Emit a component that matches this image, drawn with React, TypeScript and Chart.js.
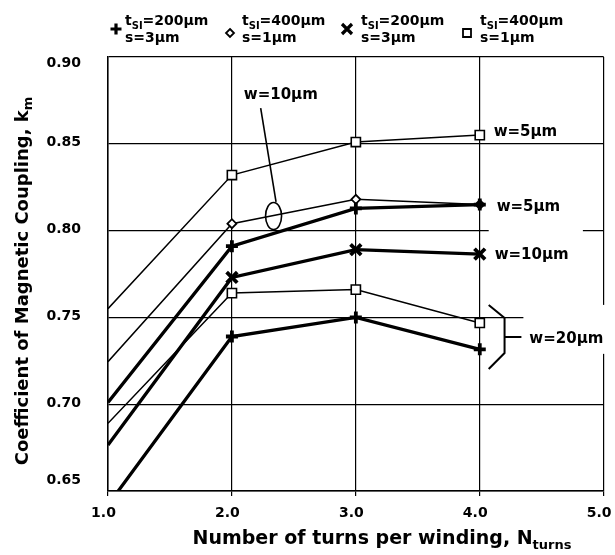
import React, { useEffect, useRef } from 'react';
import { Chart, registerables } from 'chart.js';

Chart.register(...registerables);

// ---- data ----
const turns = [1, 2, 3, 4];
// tSi=400um, s=1um (squares / diamonds), tSi=200um, s=3um (plus / cross)
const sqW5 = [0.755, 0.832, 0.851, 0.855];
const diaW10 = [0.7245, 0.804, 0.818, 0.815];
const plusW5 = [0.701, 0.791, 0.8128, 0.815];
const crossW10 = [0.6765, 0.773, 0.789, 0.7865];
const sqW20 = [0.689, 0.764, 0.766, 0.7468];
const plusW20 = [0.642, 0.739, 0.75, 0.7316];

const xTickLabels = ['1.0', '2.0', '3.0', '4.0', '5.0'];
const yTickValues = [0.65, 0.7, 0.75, 0.8, 0.85, 0.9];
const yTickLabels = ['0.65', '0.70', '0.75', '0.80', '0.85', '0.90'];

const legendTsi = ['200', '400', '200', '400'];
const legendS = ['3', '1', '3', '1'];
const legendMarkers = ['plus', 'diamond', 'cross', 'square'];

const annotTexts = ['w=5\u00b5m', 'w=5\u00b5m', 'w=10\u00b5m', 'w=20\u00b5m', 'w=10\u00b5m'];

const FAMILY = "'DejaVu Sans', 'Liberation Sans', Arial, sans-serif";

type Part = { t: string; sub?: boolean };

function measureParts(ctx: CanvasRenderingContext2D, parts: Part[], size: number, subSize: number) {
  let w = 0;
  for (const p of parts) {
    ctx.font = `bold ${p.sub ? subSize : size}px ${FAMILY}`;
    w += ctx.measureText(p.t).width;
  }
  return w;
}

function drawParts(
  ctx: CanvasRenderingContext2D,
  parts: Part[],
  x: number,
  y: number,
  size: number,
  subSize: number,
  subDy: number
) {
  let cx = x;
  ctx.textAlign = 'left';
  ctx.textBaseline = 'alphabetic';
  for (const p of parts) {
    ctx.font = `bold ${p.sub ? subSize : size}px ${FAMILY}`;
    ctx.fillText(p.t, cx, p.sub ? y + subDy : y);
    cx += ctx.measureText(p.t).width;
  }
}

function drawMarker(ctx: CanvasRenderingContext2D, kind: string, x: number, y: number) {
  ctx.save();
  ctx.strokeStyle = '#000';
  ctx.fillStyle = '#fff';
  ctx.beginPath();
  if (kind === 'plus') {
    ctx.lineWidth = 3.2;
    ctx.moveTo(x - 5.5, y);
    ctx.lineTo(x + 5.5, y);
    ctx.moveTo(x, y - 5.5);
    ctx.lineTo(x, y + 5.5);
    ctx.stroke();
  } else if (kind === 'cross') {
    ctx.lineWidth = 3.2;
    ctx.moveTo(x - 5, y - 5);
    ctx.lineTo(x + 5, y + 5);
    ctx.moveTo(x + 5, y - 5);
    ctx.lineTo(x - 5, y + 5);
    ctx.stroke();
  } else if (kind === 'diamond') {
    ctx.lineWidth = 1.8;
    ctx.moveTo(x, y - 4);
    ctx.lineTo(x + 4, y);
    ctx.lineTo(x, y + 4);
    ctx.lineTo(x - 4, y);
    ctx.closePath();
    ctx.fill();
    ctx.stroke();
  } else {
    ctx.lineWidth = 1.8;
    ctx.rect(x - 4, y - 4, 8, 8);
    ctx.fill();
    ctx.stroke();
  }
  ctx.restore();
}

const overlayPlugin = {
  id: 'overlay',
  afterDatasetsDraw(chart: any) {
    const { ctx } = chart;
    const xs = chart.scales.x;
    const ys = chart.scales.y;
    const px = (v: number) => xs.getPixelForValue(v);
    const py = (v: number) => ys.getPixelForValue(v);
    ctx.save();
    // white label backgrounds interrupting gridlines
    ctx.fillStyle = '#fff';
    ctx.fillRect(px(4.072), py(0.8) - 4, px(4.832) - px(4.072), 8);
    ctx.fillRect(px(4.352), py(0.7572), 615 - px(4.352), py(0.729) - py(0.7572));

    // right-side labels
    ctx.fillStyle = '#000';
    ctx.font = `bold 15px ${FAMILY}`;
    ctx.textAlign = 'left';
    ctx.textBaseline = 'alphabetic';
    ctx.fillText(annotTexts[0], px(4.112), py(0.8545));
    ctx.fillText(annotTexts[1], px(4.136), py(0.8115));
    ctx.fillText(annotTexts[2], px(4.12), py(0.7834));
    ctx.fillText(annotTexts[3], px(4.4), py(0.735));
    ctx.fillText(annotTexts[4], px(2.096), py(0.8758));

    // bracket for w=20um
    ctx.strokeStyle = '#000';
    ctx.lineWidth = 2;
    ctx.beginPath();
    ctx.moveTo(px(4.072), py(0.7571));
    ctx.lineTo(px(4.2), py(0.7497));
    ctx.lineTo(px(4.2), py(0.7295));
    ctx.lineTo(px(4.072), py(0.7203));
    ctx.moveTo(px(4.2), py(0.7387));
    ctx.lineTo(px(4.336), py(0.7387));
    ctx.stroke();

    // leader line and ellipse for w=10um
    ctx.lineWidth = 1.6;
    ctx.beginPath();
    ctx.moveTo(px(2.232), py(0.8706));
    ctx.lineTo(px(2.356), py(0.8165));
    ctx.stroke();
    ctx.beginPath();
    ctx.ellipse(px(2.336), py(0.8084), 8, 13.5, 0, 0, Math.PI * 2);
    ctx.stroke();
    ctx.restore();
  },
  afterDraw(chart: any) {
    const { ctx, chartArea } = chart;
    const ys = chart.scales.y;
    ctx.save();
    ctx.fillStyle = '#000';
    // y tick labels (end labels sit inside the frame as in the original)
    ctx.font = `bold 14px ${FAMILY}`;
    ctx.textAlign = 'right';
    ctx.textBaseline = 'middle';
    yTickValues.forEach((v, i) => {
      const off = i === yTickValues.length - 1 ? 6 : i === 0 ? -11 : -1;
      ctx.fillText(yTickLabels[i], chartArea.left - 27, ys.getPixelForValue(v) + off);
    });
    // legend
    const textX = [125, 242, 361, 480];
    const markX = [116, 230, 347, 467];
    const markY = [29, 33, 29, 33];
    for (let i = 0; i < 4; i++) {
      drawMarker(ctx, legendMarkers[i], markX[i], markY[i]);
      drawParts(
        ctx,
        [{ t: 't' }, { t: 'SI', sub: true }, { t: '=' + legendTsi[i] + '\u00b5m' }],
        textX[i],
        25,
        14,
        10,
        4
      );
      drawParts(ctx, [{ t: 's=' + legendS[i] + '\u00b5m' }], textX[i], 42, 14, 10, 4);
    }
    // x axis title
    const xParts: Part[] = [{ t: 'Number of turns per winding, N' }, { t: 'turns', sub: true }];
    const xw = measureParts(ctx, xParts, 19, 13);
    drawParts(ctx, xParts, 382 - xw / 2, 544, 19, 13, 5);
    // y axis title
    const yParts: Part[] = [{ t: 'Coefficient of Magnetic Coupling, k' }, { t: 'm', sub: true }];
    const yw = measureParts(ctx, yParts, 18, 13);
    ctx.translate(28, 281);
    ctx.rotate(-Math.PI / 2);
    drawParts(ctx, yParts, -yw / 2, 0, 18, 13, 4);
    ctx.restore();
  },
};

function ds(values: number[], style: string, radius: number, pbw: number, lw: number) {
  return {
    data: turns.map((t, i) => ({ x: t, y: values[i] })),
    borderColor: '#000',
    backgroundColor: '#fff',
    borderWidth: lw,
    pointStyle: style,
    pointRadius: turns.map((_, i) => (i === 0 ? 0 : radius)),
    pointHoverRadius: 0,
    pointBorderWidth: pbw,
    pointBorderColor: '#000',
    pointBackgroundColor: '#fff',
    tension: 0,
    fill: false,
  };
}

export default function App() {
  const ref = useRef<HTMLCanvasElement>(null);
  useEffect(() => {
    if (!ref.current) return;
    const tickFont = { family: FAMILY, size: 14, weight: 'bold' as const };
    const chart = new Chart(ref.current, {
      type: 'line',
      data: {
        datasets: [
          ds(plusW5, 'cross', 6, 3.8, 3.3),
          ds(plusW20, 'cross', 6, 3.8, 3.3),
          ds(crossW10, 'crossRot', 7.5, 3.8, 3.3),
          ds(diaW10, 'rectRot', 4.5, 1.8, 1.5),
          ds(sqW5, 'rect', 6.5, 1.6, 1.5),
          ds(sqW20, 'rect', 6.5, 1.6, 1.5),
        ] as any,
      },
      options: {
        animation: false,
        responsive: false,
        events: [],
        layout: { padding: { top: 57, right: 7, bottom: 0, left: 0 } },
        plugins: { legend: { display: false }, tooltip: { enabled: false }, title: { display: false } },
        scales: {
          x: {
            type: 'linear',
            min: 1,
            max: 5,
            ticks: {
              stepSize: 1,
              color: '#000',
              font: tickFont,
              padding: 9,
              labelOffset: -4.5,
              maxRotation: 0,
              callback: (v: any) => xTickLabels[Math.round(Number(v)) - 1] ?? '',
            },
            grid: { color: '#000', lineWidth: 1.2, tickLength: 5, drawTicks: true },
            border: { color: '#000', width: 1.5 },
            afterFit: (s: any) => {
              s.height = 64;
              s.paddingLeft = 0;
              s.paddingRight = 0;
            },
          },
          y: {
            type: 'linear',
            min: 0.65,
            max: 0.9,
            ticks: {
              stepSize: 0.05,
              display: false,
            },
            grid: { color: '#000', lineWidth: 1.2, drawTicks: false },
            border: { color: '#000', width: 1.5 },
            afterFit: (s: any) => {
              s.width = 108;
              s.paddingTop = 0;
              s.paddingBottom = 0;
            },
          },
        },
      } as any,
      plugins: [overlayPlugin],
    });
    return () => chart.destroy();
  }, []);
  return (
    <div style={{ position: 'absolute', left: 0, top: 0, width: 615, height: 555, background: '#fff' }}>
      <canvas ref={ref} width={615} height={555} style={{ display: 'block' }} />
    </div>
  );
}
